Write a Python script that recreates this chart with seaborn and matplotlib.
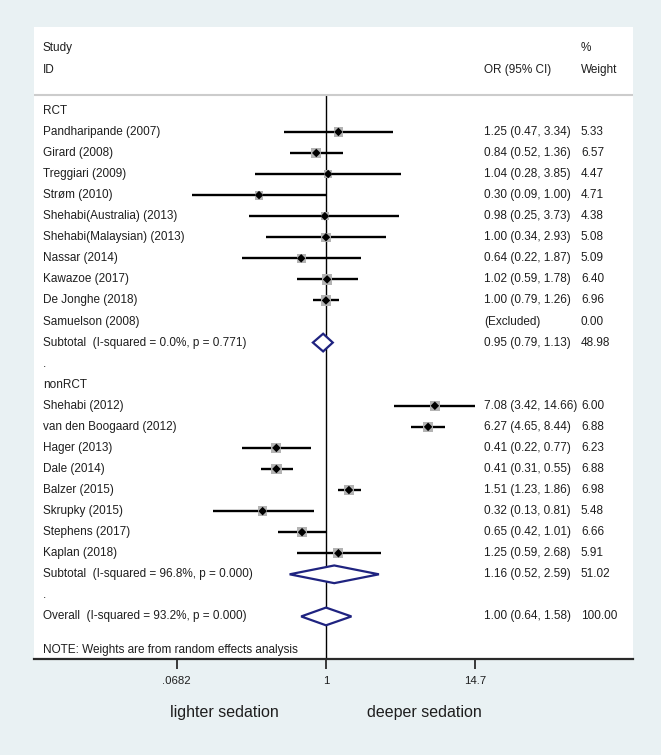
import numpy as np
import pandas as pd
import matplotlib
matplotlib.use("Agg")
import matplotlib.pyplot as plt
import matplotlib.transforms as mtransforms
from matplotlib.patches import Polygon
import seaborn as sns

# ── Data ──────────────────────────────────────────────────────────────────────
rct_names = ["Pandharipande (2007)", "Girard (2008)", "Treggiari (2009)", "Strøm (2010)",
             "Shehabi(Australia) (2013)", "Shehabi(Malaysian) (2013)", "Nassar (2014)",
             "Kawazoe (2017)", "De Jonghe (2018)", "Samuelson (2008)"]
rct_or = [1.25, 0.84, 1.04, 0.30, 0.98, 1.00, 0.64, 1.02, 1.00, np.nan]
rct_lo = [0.47, 0.52, 0.28, 0.09, 0.25, 0.34, 0.22, 0.59, 0.79, np.nan]
rct_hi = [3.34, 1.36, 3.85, 1.00, 3.73, 2.93, 1.87, 1.78, 1.26, np.nan]
rct_wt = [5.33, 6.57, 4.47, 4.71, 4.38, 5.08, 5.09, 6.40, 6.96, 0.00]

nonrct_names = ["Shehabi (2012)", "van den Boogaard (2012)", "Hager (2013)", "Dale (2014)",
                "Balzer (2015)", "Skrupky (2015)", "Stephens (2017)", "Kaplan (2018)"]
nonrct_or = [7.08, 6.27, 0.41, 0.41, 1.51, 0.32, 0.65, 1.25]
nonrct_lo = [3.42, 4.65, 0.22, 0.31, 1.23, 0.13, 0.42, 0.59]
nonrct_hi = [14.66, 8.44, 0.77, 0.55, 1.86, 0.81, 1.01, 2.68]
nonrct_wt = [6.00, 6.88, 6.23, 6.88, 6.98, 5.48, 6.66, 5.91]

group_names = ["RCT", "nonRCT"]
pooled_labels = ["Subtotal  (I-squared = 0.0%, p = 0.771)",
                 "Subtotal  (I-squared = 96.8%, p = 0.000)",
                 "Overall  (I-squared = 93.2%, p = 0.000)"]
pooled_or = [0.95, 1.16, 1.00]
pooled_lo = [0.79, 0.52, 0.64]
pooled_hi = [1.13, 2.59, 1.58]
pooled_wt = [48.98, 51.02, 100.00]

tick_vals = [0.0682, 1, 14.7]
tick_labels = [".0682", "1", "14.7"]
note = "NOTE: Weights are from random effects analysis"

# ── Build row table ───────────────────────────────────────────────────────────
groups = [(rct_names, rct_or, rct_lo, rct_hi, rct_wt),
          (nonrct_names, nonrct_or, nonrct_lo, nonrct_hi, nonrct_wt)]
rows = []
r = 0
for gi, (names, est, lo, hi, wt) in enumerate(groups):
    rows.append(dict(row=r, label=group_names[gi], kind="header"))
    r += 1
    for n, e, l, h, w in zip(names, est, lo, hi, wt):
        rows.append(dict(row=r, label=n, est=e, lo=l, hi=h, wt=w, kind="study"))
        r += 1
    rows.append(dict(row=r, label=pooled_labels[gi], est=pooled_or[gi], lo=pooled_lo[gi],
                     hi=pooled_hi[gi], wt=pooled_wt[gi], kind="pooled"))
    r += 1
    rows.append(dict(row=r, label=".", kind="gap"))
    r += 1
rows.append(dict(row=r, label=pooled_labels[2], est=pooled_or[2], lo=pooled_lo[2],
                 hi=pooled_hi[2], wt=pooled_wt[2], kind="pooled"))
df = pd.DataFrame(rows)
n_last = r

# ── Style ─────────────────────────────────────────────────────────────────────
sns.set_style("white")
plt.rcParams["font.family"] = ["Liberation Sans", "DejaVu Sans"]
BG = "#e9f1f3"
TXT = "#1e1e1e"
NAVY = "#1f2380"

fig = plt.figure(figsize=(6.61, 7.55), dpi=100, facecolor=BG)
W, H = 661, 755
ax = fig.add_axes([34 / W, (H - 659) / H, (633 - 34) / W, (659 - 27) / H])
ax.set_facecolor("white")

ax.set_xscale("log")
ax.set_xlim(np.exp(-5.25), np.exp(5.52))
ax.set_ylim(n_last + 2.02, -3.98)

# null line + header separator
sep_row = -0.74
ax.vlines(1, sep_row, n_last + 2.02, color="black", lw=1.0, zorder=1)
ax.axhline(sep_row, color="#cccccc", lw=1.5, zorder=1)

# confidence intervals
studies = df[df["kind"] == "study"].dropna(subset=["est"])
ax.hlines(studies["row"], studies["lo"], studies["hi"], color="black", lw=1.7, zorder=2)

# weight boxes (area proportional to weight) + point estimates
wts = studies["wt"]
sns.scatterplot(data=studies, x="est", y="row", size="wt",
                sizes=(8.5 * wts.min(), 8.5 * wts.max()), size_norm=(wts.min(), wts.max()),
                marker="s", color="#b3b3b3", edgecolor="none", linewidth=0,
                legend=False, ax=ax, zorder=3)
sns.scatterplot(data=studies, x="est", y="row", marker="D", color="black", s=19,
                edgecolor="none", linewidth=0, legend=False, ax=ax, zorder=4)

# pooled diamonds
hh = 0.42
for _, p in df[df["kind"] == "pooled"].iterrows():
    verts = [(p["lo"], p["row"]), (p["est"], p["row"] - hh),
             (p["hi"], p["row"]), (p["est"], p["row"] + hh)]
    ax.add_patch(Polygon(verts, closed=True, facecolor="white", edgecolor=NAVY,
                         lw=1.6, zorder=5))

# text columns
tr = mtransforms.blended_transform_factory(ax.transAxes, ax.transData)
x_lab, x_or, x_wt = 0.015, 0.751, 0.913
fs = 8.5
ax.text(x_lab, -3.0, "Study", transform=tr, fontsize=fs, color=TXT, va="center")
ax.text(x_lab, -1.95, "ID", transform=tr, fontsize=fs, color=TXT, va="center")
ax.text(x_or, -1.95, "OR (95% CI)", transform=tr, fontsize=fs, color=TXT, va="center")
ax.text(x_wt, -3.0, "%", transform=tr, fontsize=fs, color=TXT, va="center")
ax.text(x_wt, -1.95, "Weight", transform=tr, fontsize=fs, color=TXT, va="center")

for _, row in df.iterrows():
    ax.text(x_lab, row["row"], row["label"], transform=tr, fontsize=fs, color=TXT, va="center")
    if row["kind"] in ("study", "pooled"):
        if np.isnan(row["est"]):
            or_txt = "(Excluded)"
        else:
            or_txt = f"{row['est']:.2f} ({row['lo']:.2f}, {row['hi']:.2f})"
        ax.text(x_or, row["row"], or_txt, transform=tr, fontsize=fs, color=TXT, va="center")
        ax.text(x_wt, row["row"], f"{row['wt']:.2f}", transform=tr, fontsize=fs,
                color=TXT, va="center")

ax.text(x_lab, n_last + 1.57, note, transform=tr, fontsize=fs, color=TXT, va="center")

# axis
for s in ["top", "left", "right"]:
    ax.spines[s].set_visible(False)
ax.spines["bottom"].set_color("#2a2a2a")
ax.spines["bottom"].set_linewidth(1.6)
ax.set_xlabel("")
ax.set_ylabel("")
ax.set_yticks([])
ax.set_xticks(tick_vals)
ax.set_xticklabels(tick_labels)
ax.minorticks_off()
ax.tick_params(axis="x", direction="out", length=7.5, width=1.3, color="#2a2a2a",
               labelsize=8.2, labelcolor=TXT, pad=5, bottom=True)

ax.text(0.317, -0.085, "lighter sedation", transform=ax.transAxes, fontsize=11.5,
        color=TXT, ha="center", va="center")
ax.text(0.651, -0.085, "deeper sedation", transform=ax.transAxes, fontsize=11.5,
        color=TXT, ha="center", va="center")

fig.savefig("out.png", dpi=100, facecolor=BG)
